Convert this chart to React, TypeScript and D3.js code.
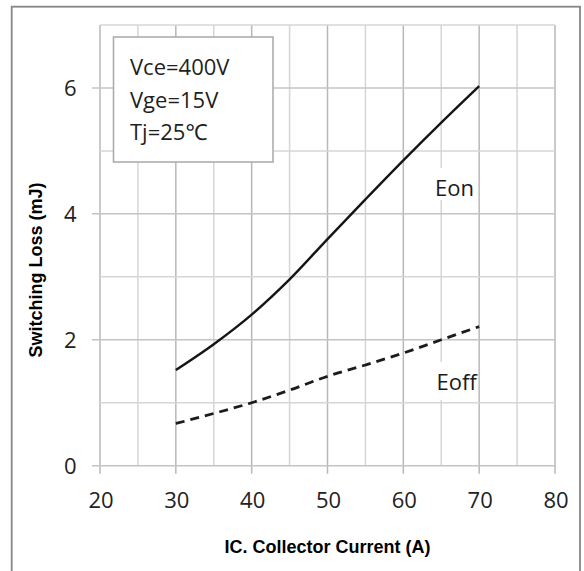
import { useEffect, useRef } from "react";
import * as d3 from "d3";

// Collector current (A) sample points
const currents = [30, 35, 40, 45, 50, 55, 60, 65, 70];
// Switching loss (mJ)
const eon = [1.52, 1.93, 2.4, 2.96, 3.6, 4.23, 4.85, 5.45, 6.03];
const eoff = [0.67, 0.83, 1.0, 1.2, 1.42, 1.6, 1.79, 2.0, 2.21];

const xMajorTicks = [20, 30, 40, 50, 60, 70, 80];
const xMinorTicks = [25, 35, 45, 55, 65, 75];
const yMajorTicks = [0, 2, 4, 6];
const yMinorTicks = [1, 3, 5, 7];

const conditions = ["Vce=400V", "Vge=15V", "Tj=25℃"];

const WIDTH = 584;
const HEIGHT = 571;

export default function App() {
  const ref = useRef<SVGSVGElement>(null);

  useEffect(() => {
    if (!ref.current) return;
    const svg = d3.select(ref.current);
    svg.selectAll("*").remove();

    const x = d3.scaleLinear().domain([20, 80]).range([100, 555]);
    const y = d3.scaleLinear().domain([0, 7]).range([465.7, 25]);

    const tickFont = "'Open Sans', 'Noto Sans', sans-serif";

    // Outer frame
    svg
      .append("rect")
      .attr("x", 11.7)
      .attr("y", 6.7)
      .attr("width", 580 - 11.7)
      .attr("height", HEIGHT)
      .attr("fill", "#fff")
      .attr("stroke", "#858585")
      .attr("stroke-width", 1.8);

    const grid = svg.append("g");

    // Vertical grid lines
    grid
      .selectAll(".vminor")
      .data(xMinorTicks)
      .join("line")
      .attr("x1", (d) => x(d))
      .attr("x2", (d) => x(d))
      .attr("y1", y(7))
      .attr("y2", y(0))
      .attr("stroke", "#d6d6d6")
      .attr("stroke-width", 1.5);
    grid
      .selectAll(".vmajor")
      .data(xMajorTicks)
      .join("line")
      .attr("x1", (d) => x(d))
      .attr("x2", (d) => x(d))
      .attr("y1", y(7))
      .attr("y2", y(0) + 8)
      .attr("stroke", "#b8b8b8")
      .attr("stroke-width", 1.5);

    // Horizontal grid lines
    grid
      .selectAll(".hminor")
      .data(yMinorTicks)
      .join("line")
      .attr("x1", x(20))
      .attr("x2", x(80))
      .attr("y1", (d) => y(d))
      .attr("y2", (d) => y(d))
      .attr("stroke", "#d6d6d6")
      .attr("stroke-width", 1.5);
    grid
      .selectAll(".hmajor")
      .data(yMajorTicks)
      .join("line")
      .attr("x1", x(20) - 8)
      .attr("x2", x(80))
      .attr("y1", (d) => y(d))
      .attr("y2", (d) => y(d))
      .attr("stroke", "#c4c4c4")
      .attr("stroke-width", 1.5);

    // Tick labels
    svg
      .append("g")
      .selectAll("text")
      .data(xMajorTicks)
      .join("text")
      .attr("x", (d) => x(d) + 1)
      .attr("y", 508)
      .attr("text-anchor", "middle")
      .attr("font-family", tickFont)
      .attr("font-size", 22)
      .attr("fill", "#222")
      .text((d) => d);

    svg
      .append("g")
      .selectAll("text")
      .data(yMajorTicks)
      .join("text")
      .attr("x", 76.5)
      .attr("y", (d) => y(d) + 8.5)
      .attr("text-anchor", "end")
      .attr("font-family", tickFont)
      .attr("font-size", 22)
      .attr("fill", "#222")
      .text((d) => d);

    // Axis titles
    svg
      .append("text")
      .attr("x", 327.5)
      .attr("y", 553)
      .attr("text-anchor", "middle")
      .attr("font-family", "'Liberation Sans', Arial, sans-serif")
      .attr("font-weight", "bold")
      .attr("font-size", 18)
      .attr("fill", "#000")
      .text("IC. Collector Current (A)");

    svg
      .append("text")
      .attr("transform", "translate(42,270) rotate(-90)")
      .attr("text-anchor", "middle")
      .attr("font-family", "'Liberation Sans', Arial, sans-serif")
      .attr("font-weight", "bold")
      .attr("font-size", 18)
      .attr("fill", "#000")
      .text("Switching Loss (mJ)");

    // Curves
    const line = d3
      .line<number>()
      .x((_, i) => x(currents[i]))
      .y((d) => y(d))
      .curve(d3.curveMonotoneX);

    svg
      .append("path")
      .attr("d", line(eon))
      .attr("fill", "none")
      .attr("stroke", "#151515")
      .attr("stroke-width", 2.4);

    svg
      .append("path")
      .attr("d", line(eoff))
      .attr("fill", "none")
      .attr("stroke", "#1c1c1c")
      .attr("stroke-width", 2.8)
      .attr("stroke-dasharray", "9,6");

    // Curve labels with white backing
    const labels = [
      { text: "Eon", x: 435, y: 196, box: [430, 168, 46, 32] },
      { text: "Eoff", x: 436.5, y: 390, box: [430, 362, 48, 38] },
    ];
    labels.forEach((l) => {
      svg
        .append("rect")
        .attr("x", l.box[0])
        .attr("y", l.box[1])
        .attr("width", l.box[2])
        .attr("height", l.box[3])
        .attr("fill", "#fff");
      svg
        .append("text")
        .attr("x", l.x)
        .attr("y", l.y)
        .attr("font-family", tickFont)
        .attr("font-size", 22)
        .attr("fill", "#1a1a1a")
        .text(l.text);
    });

    // Conditions box
    svg
      .append("rect")
      .attr("x", 113.5)
      .attr("y", 37)
      .attr("width", 159.5)
      .attr("height", 125)
      .attr("fill", "#fff")
      .attr("stroke", "#a8a8a8")
      .attr("stroke-width", 1.5);

    svg
      .append("g")
      .selectAll("text")
      .data(conditions)
      .join("text")
      .attr("x", 130)
      .attr("y", (_, i) => 75 + i * 32.5)
      .attr("font-family", tickFont)
      .attr("font-size", 22)
      .attr("fill", "#1f1f1f")
      .text((d) => d);
  }, []);

  return (
    <svg
      ref={ref}
      width={WIDTH}
      height={HEIGHT}
      viewBox={`0 0 ${WIDTH} ${HEIGHT}`}
      style={{ position: "absolute", left: 0, top: 0, background: "#fff" }}
    />
  );
}
